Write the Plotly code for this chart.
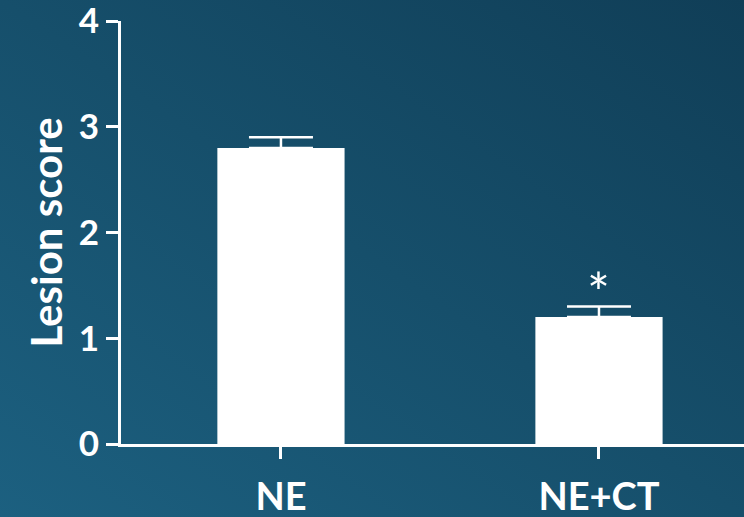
import base64
import plotly.graph_objects as go

categories = ["NE", "NE+CT"]
values = [2.8, 1.2]
errors = [0.1, 0.1]
y_ticks = [0, 1, 2, 3, 4]
significance = ["", "*"]

W, H = 744, 517
ML, MR, MT, MB = 121, 0, 21, 73
PW, PH = W - ML - MR, H - MT - MB

svg = (
    f'<svg xmlns="http://www.w3.org/2000/svg" width="{W}" height="{H}" viewBox="0 0 {W} {H}" preserveAspectRatio="none">'
    '<defs><linearGradient id="g" x1="0" y1="1" x2="1" y2="0">'
    '<stop offset="0" stop-color="#1c6080"/>'
    '<stop offset="0.5" stop-color="#164f6b"/>'
    '<stop offset="1" stop-color="#103e57"/>'
    '</linearGradient></defs>'
    f'<rect width="{W}" height="{H}" fill="url(#g)"/></svg>'
)
bg_src = "data:image/svg+xml;base64," + base64.b64encode(svg.encode()).decode()

FONT = "Lato"
fig = go.Figure()
fig.add_trace(go.Bar(
    x=[0, 1], y=values, width=0.4,
    marker=dict(color="white", line=dict(width=0)),
    error_y=dict(type="data", symmetric=False, array=errors, arrayminus=[0, 0],
                 color="white", thickness=2.5, width=32),
    hoverinfo="skip",
))
for i, s in enumerate(significance):
    if s:
        fig.add_annotation(x=i, y=values[i] + errors[i], text=s, showarrow=False,
                           yanchor="bottom", yshift=-19,
                           font=dict(family=FONT, size=54, color="white"))

fig.add_layout_image(dict(
    source=bg_src, xref="paper", yref="paper",
    x=-ML / PW, y=1 + MT / PH, sizex=W / PW, sizey=H / PH,
    xanchor="left", yanchor="top", sizing="stretch", layer="below",
))

fig.update_layout(
    width=W, height=H,
    margin=dict(l=ML, r=MR, t=MT, b=MB, pad=0, autoexpand=False),
    paper_bgcolor="#154a66", plot_bgcolor="rgba(0,0,0,0)",
    showlegend=False,
    xaxis=dict(
        range=[-0.503, 1.456], tickvals=[0, 1], ticktext=categories,
        automargin=False, ticklabeloverflow="allow",
        showgrid=False, zeroline=False, showline=True, linecolor="white", linewidth=3,
        ticks="outside", tickcolor="white", tickwidth=3, ticklen=12,
        ticklabelstandoff=5,
        tickfont=dict(family=FONT, size=38, color="white", weight="bold"),
    ),
    yaxis=dict(
        range=[0, 4], tickvals=y_ticks,
        automargin=False, ticklabeloverflow="allow",
        showgrid=False, zeroline=False, showline=True, linecolor="white", linewidth=3,
        ticks="outside", tickcolor="white", tickwidth=3, ticklen=12,
        ticklabelstandoff=0,
        tickfont=dict(family=FONT, size=35, color="white", weight="bold"),
        title=dict(text="Lesion score", standoff=3,
                   font=dict(family=FONT, size=42, color="white", weight="bold")),
    ),
)

fig.write_html("out.html")
